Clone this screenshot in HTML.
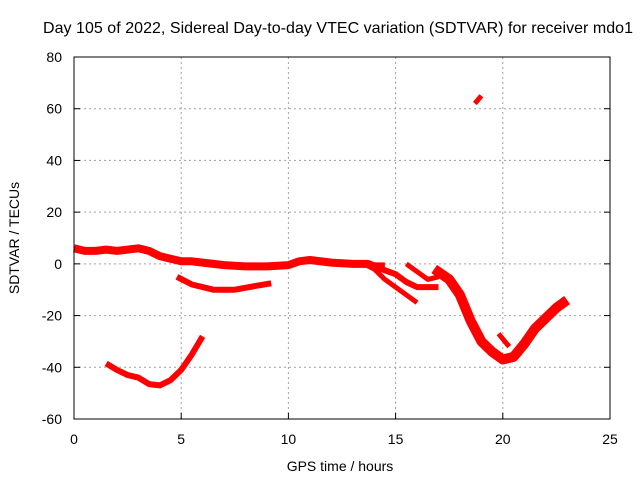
<!DOCTYPE html>
<html><head><meta charset="utf-8"><style>
body{margin:0;background:#fff;}
svg{display:block;font-family:"Liberation Sans",sans-serif;font-size:14px;}
</style></head><body>
<svg id="chart" width="640" height="480">
<text x="338" y="33" text-anchor="middle" fill="#000" style="font-size:16px" textLength="590">Day 105 of 2022, Sidereal Day-to-day VTEC variation (SDTVAR) for receiver mdo1</text>
<g id="grid"></g><g id="series"></g><g id="axes"></g>
<text x="340" y="471" text-anchor="middle">GPS time / hours</text>
<text transform="translate(19,238) rotate(-90)" text-anchor="middle">SDTVAR / TECUs</text>
</svg>
<script>
const xTicks=[0,5,10,15,20,25];
const yTicks=[-60,-40,-20,0,20,40,60,80];
const mainHours=[0,0.5,1,1.5,2,2.5,3,3.5,4,4.5,5,5.5,6,7,8,9,10,10.5,11,12,13,13.7,14,14.5];
const mainValues=[6,5,5,5.5,5,5.5,6,5,3,2,1,1,0.5,-0.5,-1,-1,-0.5,1,1.5,0.5,0,0,-1,-1];
const arcHours=[4.8,5.5,6.5,7.5,8.5,9.2];
const arcValues=[-5,-8,-10,-10,-8.5,-7.5];
const lowHours=[1.5,2,2.5,3,3.5,4,4.5,5,5.5,6];
const lowValues=[-38.5,-41,-43,-44,-46.5,-47,-45,-41,-35,-28];
const spikeHours=[18.7,19];
const spikeValues=[62,65];
const branch1Hours=[13.5,14,14.5,15,15.5,16];
const branch1Values=[0,-2,-6,-9,-12,-15];
const branch2Hours=[14,15,15.5,16,17];
const branch2Values=[-1,-4,-7,-9,-9];
const branch3Hours=[15.5,16,16.5,17];
const branch3Values=[0,-3,-6,-5];
const dropHours=[16.8,17.5,18,18.5,19,19.5,20,20.5,21,21.5,22,22.5,23];
const dropValues=[-2,-6,-12,-22,-30,-34,-37,-36,-31,-25,-21,-17,-14];
const hookHours=[19.8,20.3];
const hookValues=[-27,-32];

const L=74,R=610,T=57,B=419;
const X=h=>L+(h-0)/(25-0)*(R-L);
const Y=v=>B-(v+60)/140*(B-T);
const NS="http://www.w3.org/2000/svg";
function mk(tag,attrs,parent){const e=document.createElementNS(NS,tag);for(const k in attrs)e.setAttribute(k,attrs[k]);parent.appendChild(e);return e;}
const grid=document.getElementById('grid'),axes=document.getElementById('axes'),ser=document.getElementById('series');
xTicks.forEach(t=>{
  if(t>0&&t<25){const g=mk('line',{x1:X(t),x2:X(t),y1:T,y2:B,stroke:'#a0a0a0','stroke-dasharray':'2,3'},grid);
  
  }
  const tk=mk('line',{x1:X(t),x2:X(t),y1:B,y2:B-6,stroke:'#000'},axes);
  
  
  const lb=mk('text',{x:X(t),y:B+25,'text-anchor':'middle'},axes);lb.textContent=t;
  
  
});
yTicks.forEach(t=>{
  if(t>-60&&t<80){const g=mk('line',{x1:L,x2:R,y1:Y(t),y2:Y(t),stroke:'#a0a0a0','stroke-dasharray':'2,3'},grid);
  
  }
  const tk=mk('line',{x1:L,x2:L+6,y1:Y(t),y2:Y(t),stroke:'#000'},axes);
  
  
  const tk2=mk('line',{x1:R,x2:R-6,y1:Y(t),y2:Y(t),stroke:'#000'},axes);
  
  
  const lb=mk('text',{x:L-12,y:Y(t)+5,'text-anchor':'end'},axes);lb.textContent=t;
  
  
});
const box=mk('rect',{x:L,y:T,width:R-L,height:B-T,fill:'none',stroke:'#000'},axes);


function series(hs,vs,w,name){
  const pts=hs.map((h,i)=>X(h).toFixed(1)+','+Y(vs[i]).toFixed(1)).join(' ');
  const p=mk('polyline',{points:pts,fill:'none',stroke:'#ff0000','stroke-width':w,'stroke-linejoin':'round','stroke-linecap':'butt'},ser);
  
  
}
series(mainHours,mainValues,8,'series-main');
series(arcHours,arcValues,6,'series-arc');
series(lowHours,lowValues,6,'series-low');
series(spikeHours,spikeValues,5,'series-spike');
series(branch1Hours,branch1Values,5,'series-branch-1');
series(branch2Hours,branch2Values,6,'series-branch-2');
series(branch3Hours,branch3Values,5,'series-branch-3');
series(dropHours,dropValues,10,'series-drop');
series(hookHours,hookValues,5,'series-hook');
</script>
</body></html>
